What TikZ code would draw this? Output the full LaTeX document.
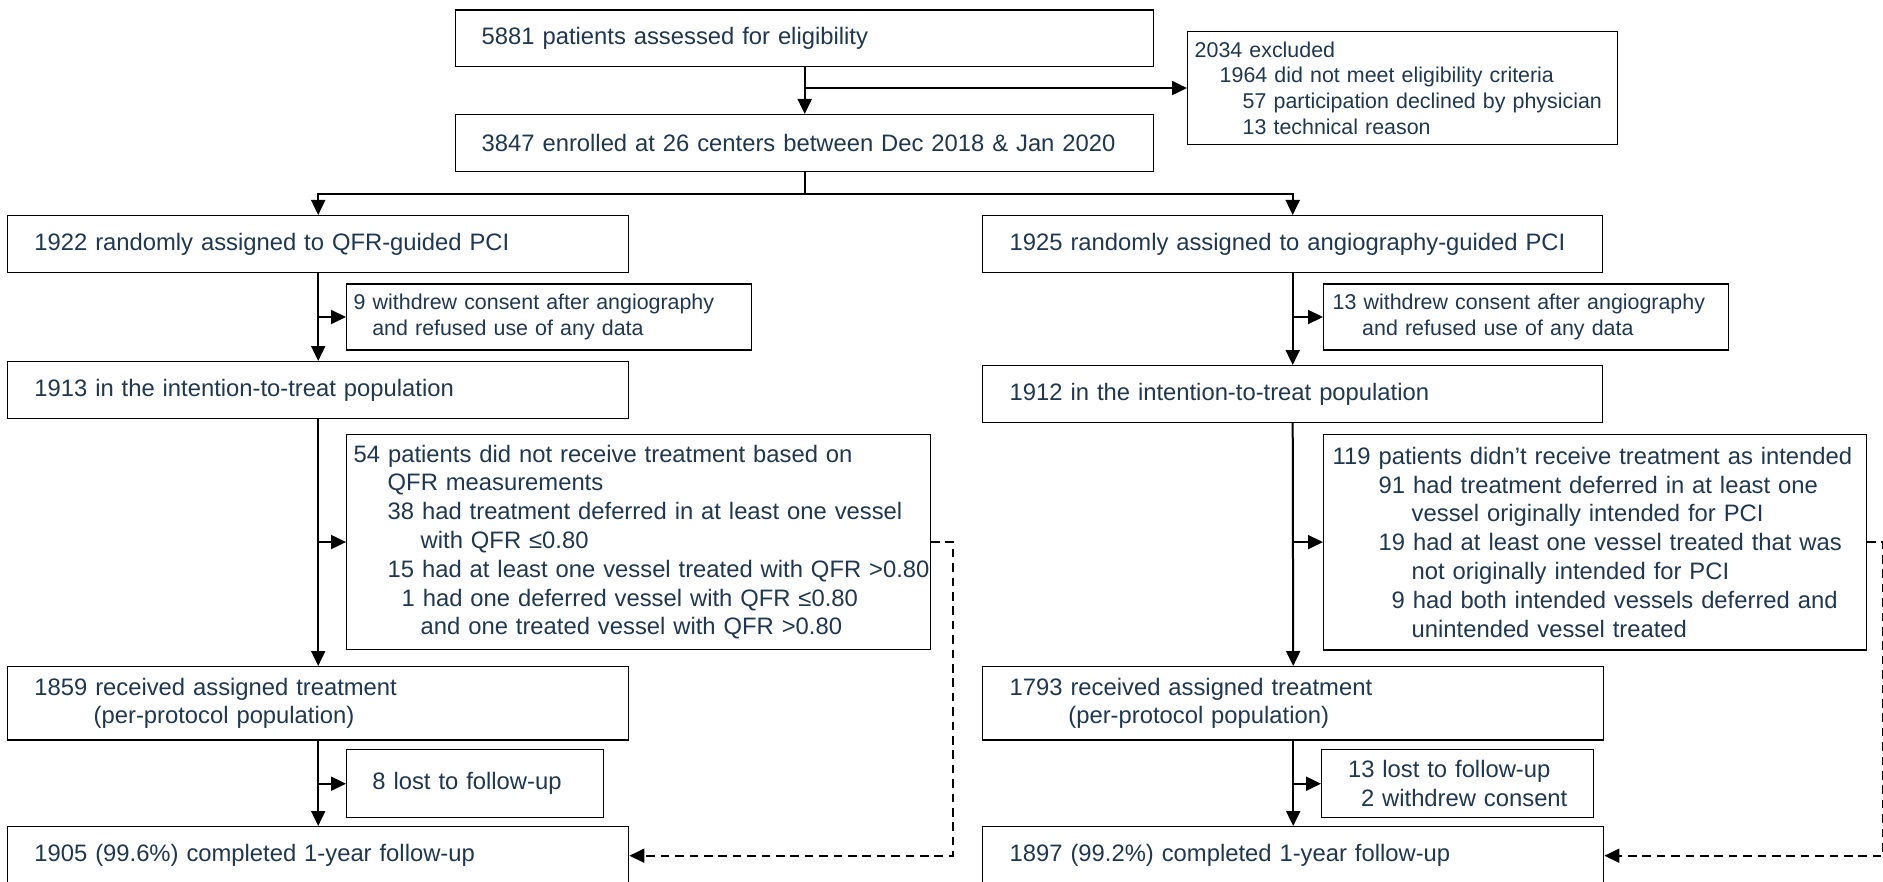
\documentclass[tikz,border=0pt]{standalone}
\usepackage{fontspec}
\setmainfont{Liberation Sans}
\usetikzlibrary{arrows.meta,calc}
\definecolor{txt}{RGB}{31,56,80}
\newcommand{\mainfs}{\fontsize{11.9pt}{14.4pt}\selectfont}
\newcommand{\smallfs}{\fontsize{10.7pt}{13pt}\selectfont}
\hbadness=10000 \hfuzz=50pt
\tikzset{
  box/.style={draw=black, line width=0.7pt, anchor=north west, inner ysep=0pt,
    align=left, text=txt, font=\mainfs},
  sbox/.style={box, font=\smallfs},
  conn/.style={draw=black, line width=1pt},
  arr/.style={conn, -{Triangle[length=7.5pt,width=7pt]}},
  dconn/.style={conn, dash pattern=on 4.3pt off 2.9pt, -{Triangle[length=7.5pt,width=7pt]}}
}
\begin{document}
\begin{tikzpicture}[x=0.5pt,y=-0.5pt]
\fill[white] (0,0) rectangle (1883,882);
\useasboundingbox (0,0) rectangle (1883,882);

% top
\node[box, minimum width=349pt, minimum height=28.35pt, inner xsep=13pt, text width=323pt]
  (b5881) at (455,9.3) {\mbox{5881 patients assessed for eligibility}};
\node[box, minimum width=349pt, minimum height=28.5pt, inner xsep=13pt, text width=323pt]
  (b3847) at (455,114) {\mbox{3847 enrolled at 26 centers between Dec 2018 \& Jan 2020}};
\node[sbox, font=\fontsize{10.7pt}{12.85pt}\selectfont, minimum width=215pt, minimum height=56.65pt, inner xsep=3.5pt, text width=208pt]
  (bexcl) at (1187,30.7) {\mbox{2034 excluded}\\
  \mbox{\hspace*{12.5pt}1964 did not meet eligibility criteria}\\
  \mbox{\hspace*{24pt}57 participation declined by physician}\\
  \mbox{\hspace*{24pt}13 technical reason}};

% left column
\node[box, minimum width=310.5pt, minimum height=28.5pt, inner xsep=13.35pt, text width=283.8pt]
  (b1922) at (7,215) {\mbox{1922 randomly assigned to QFR-guided PCI}};
\node[sbox, minimum width=202.35pt, minimum height=33pt, inner xsep=3.5pt, text width=195.35pt]
  (bw9) at (346,283.3) {\mbox{9 withdrew consent after angiography}\\
  \mbox{\hspace*{9.3pt}and refused use of any data}};
\node[box, minimum width=310.5pt, minimum height=28.5pt, inner xsep=13.35pt, text width=283.8pt]
  (b1913) at (7,361) {\mbox{1913 in the intention-to-treat population}};
\node[box, minimum width=291.75pt, minimum height=107.65pt, inner xsep=3.5pt, text width=284.75pt]
  (b54) at (346,433.7) {\mbox{54 patients did not receive treatment based on}\\
  \mbox{\hspace*{17pt}QFR measurements}\\
  \mbox{\hspace*{17pt}38 had treatment deferred in at least one vessel}\\
  \mbox{\hspace*{33.5pt}with QFR ≤0.80}\\
  \mbox{\hspace*{17pt}15 had at least one vessel treated with QFR >0.80}\\
  \mbox{\hspace*{24pt}1 had one deferred vessel with QFR ≤0.80}\\
  \mbox{\hspace*{33.5pt}and one treated vessel with QFR >0.80}};
\node[box, minimum width=310.5pt, minimum height=36.65pt, inner xsep=13.35pt, text width=283.8pt]
  (b1859) at (7,666) {\mbox{1859 received assigned treatment}\\
  \mbox{\hspace*{29.65pt}(per-protocol population)}};
\node[box, minimum width=128.3pt, minimum height=34pt, inner xsep=12.85pt, text width=102.6pt]
  (b8) at (346,749) {\mbox{8 lost to follow-up}};
\node[box, minimum width=310.5pt, minimum height=29pt, inner xsep=13.35pt, text width=283.8pt]
  (b1905) at (7,826) {\mbox{1905 (99.6\%) completed 1-year follow-up}};

% right column
\node[box, minimum width=310pt, minimum height=28.5pt, inner xsep=13.5pt, text width=283pt]
  (b1925) at (982,215) {\mbox{1925 randomly assigned to angiography-guided PCI}};
\node[sbox, minimum width=202.3pt, minimum height=33pt, inner xsep=4.5pt, text width=193.3pt]
  (bw13) at (1323,283.3) {\mbox{13 withdrew consent after angiography}\\
  \mbox{\hspace*{14.75pt}and refused use of any data}};
\node[box, minimum width=310pt, minimum height=28.35pt, inner xsep=13.5pt, text width=283pt]
  (b1912) at (982,365) {\mbox{1912 in the intention-to-treat population}};
\node[box, minimum width=271.25pt, minimum height=107.9pt, inner xsep=4.5pt, text width=262.25pt]
  (b119) at (1323,433.5) {\mbox{119 patients didn’t receive treatment as intended}\\
  \mbox{\hspace*{23pt}91 had treatment deferred in at least one}\\
  \mbox{\hspace*{39.5pt}vessel originally intended for PCI}\\
  \mbox{\hspace*{23pt}19 had at least one vessel treated that was}\\
  \mbox{\hspace*{39.5pt}not originally intended for PCI}\\
  \mbox{\hspace*{29.5pt}9 had both intended vessels deferred and}\\
  \mbox{\hspace*{39.5pt}unintended vessel treated}};
\node[box, minimum width=310.5pt, minimum height=36.65pt, inner xsep=13.5pt, text width=283.5pt]
  (b1793) at (982,666) {\mbox{1793 received assigned treatment}\\
  \mbox{\hspace*{29.35pt}(per-protocol population)}};
\node[box, minimum width=135.9pt, minimum height=34pt, inner xsep=13.15pt, text width=109.6pt]
  (b13l) at (1321,749) {\mbox{13 lost to follow-up}\\
  \mbox{\hspace*{6.5pt}2 withdrew consent}};
\node[box, minimum width=310.5pt, minimum height=29pt, inner xsep=13.5pt, text width=283.5pt]
  (b1897) at (982,826) {\mbox{1897 (99.2\%) completed 1-year follow-up}};

% connectors top
\draw[arr] (b5881.south) -- (b3847.north);
\draw[arr] (b5881.south |- bexcl.west) -- (bexcl.west);
\coordinate (split) at ($(b3847.south)+(0,22)$);
\draw[conn] (b3847.south) -- (split);
\draw[arr] (split) -| (b1922.north);
\draw[arr] (split) -| (b1925.north);

% left column connectors
\draw[arr] (b1922.south) -- (b1913.north);
\draw[arr] (b1922.south |- bw9.west) -- (bw9.west);
\draw[arr] (b1913.south) -- (b1859.north);
\draw[arr] (b1913.south |- b54.west) -- (b54.west);
\draw[arr] (b1859.south) -- (b1905.north);
\draw[arr] (b1859.south |- b8.west) -- (b8.west);
\draw[dconn] (b54.east) -- ++(22,0) |- (b1905.east);

% right column connectors
\draw[arr] (b1925.south) -- (b1912.north);
\draw[arr] (b1925.south |- bw13.west) -- (bw13.west);
\draw[arr] (b1912.south) -- (b1793.north);
\draw[arr] (b1912.south |- b119.west) -- (b119.west);
\draw[arr] (b1793.south) -- (b1897.north);
\draw[arr] (b1793.south |- b13l.west) -- (b13l.west);
\draw[dconn] (b119.east) -- ++(16,0) |- (b1897.east);
\end{tikzpicture}
\end{document}
